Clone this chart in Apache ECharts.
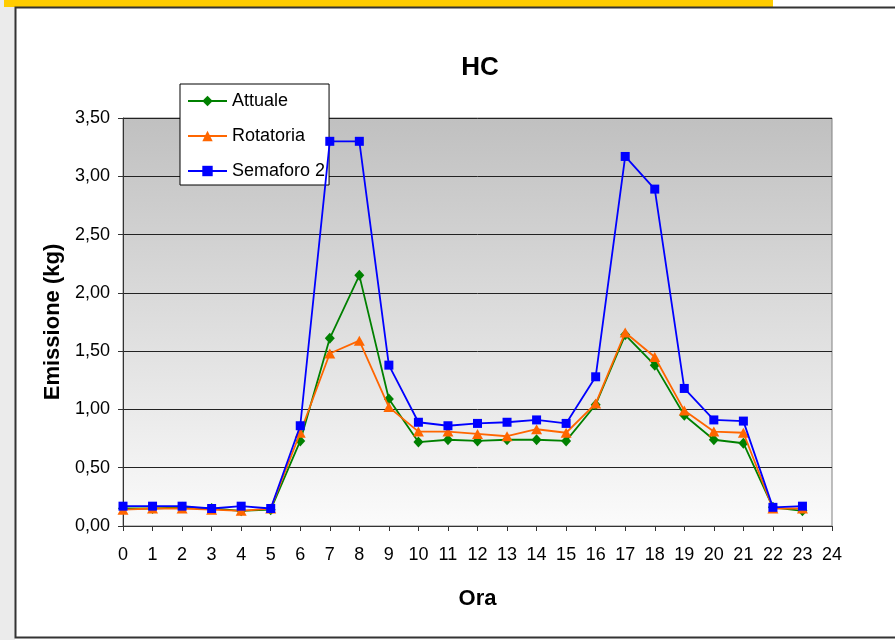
<!DOCTYPE html>
<html>
<head>
<meta charset="utf-8">
<script src="https://cdn.jsdelivr.net/npm/echarts@6/dist/echarts.min.js"></script>
<style>
html,body{margin:0;padding:0;background:#fff;}
#chart{width:895px;height:640px;}
</style>
</head>
<body>
<div id="chart"></div>
<script>
var hours = ['0','1','2','3','4','5','6','7','8','9','10','11','12','13','14','15','16','17','18','19','20','21','22','23','24'];
var attuale = [0.15,0.15,0.16,0.15,0.13,0.14,0.73,1.61,2.15,1.09,0.72,0.74,0.73,0.74,0.74,0.73,1.04,1.64,1.38,0.95,0.74,0.71,0.16,0.13];
var rotatoria = [0.14,0.15,0.15,0.14,0.13,0.15,0.80,1.48,1.59,1.02,0.81,0.81,0.79,0.77,0.83,0.80,1.05,1.66,1.45,0.99,0.81,0.80,0.15,0.15];
var semaforo2 = [0.17,0.17,0.17,0.15,0.17,0.15,0.86,3.30,3.30,1.38,0.89,0.86,0.88,0.89,0.91,0.88,1.28,3.17,2.89,1.18,0.91,0.90,0.16,0.17];
var seriesNames = ['Attuale','Rotatoria','Semaforo 2'];
var chartTitle = 'HC';
var yName = 'Emissione (kg)';
var xName = 'Ora';

var FONT = 'Liberation Sans, Arial, sans-serif';
var chart = echarts.init(document.getElementById('chart'), null, {renderer:'canvas'});
chart.setOption({
  animation: false,
  backgroundColor: '#fff',
  graphic: [
    {type:'rect', shape:{x:0,y:0,width:15,height:640}, style:{fill:'#ebebeb'}, z:-10},
    {type:'rect', shape:{x:4,y:0,width:769,height:7}, style:{fill:'#ffcc00'}, z:-10},
    {type:'rect', shape:{x:15.5,y:7.5,width:900,height:630}, style:{fill:'#fff', stroke:'#333', lineWidth:2}, z:-9}
  ],
  title: {
    text: chartTitle,
    left: 475, top: 50, textAlign: 'center',
    textStyle: {fontFamily: FONT, fontSize: 26, fontWeight: 'bold', color: '#000'}
  },
  legend: {
    data: seriesNames,
    orient: 'vertical',
    left: 180, top: 84,
    backgroundColor: '#fff',
    borderColor: '#000', borderWidth: 1,
    padding: [8, 4, 5, 7],
    itemWidth: 39, itemHeight: 13, itemGap: 17,
    textStyle: {fontFamily: FONT, fontSize: 18, color: '#000', lineHeight: 18}
  },
  grid: {
    left: 123, right: 63, top: 118, bottom: 114,
    show: true,
    borderColor: '#808080', borderWidth: 1,
    backgroundColor: new echarts.graphic.LinearGradient(0,0,0,1,[{offset:0,color:'#c0c0c0'},{offset:1,color:'#fbfbfb'}])
  },
  xAxis: {
    type: 'category',
    data: hours,
    boundaryGap: false,
    name: xName, nameLocation: 'middle', nameGap: 62,
    nameTextStyle: {fontFamily: FONT, fontSize: 22, fontWeight: 'bold', color: '#000'},
    axisLine: {lineStyle: {color: '#333', width: 1}},
    axisTick: {show: true, length: 5, lineStyle: {color: '#333'}},
    axisLabel: {fontFamily: FONT, fontSize: 18, color: '#000', margin: 20, interval: 0},
    splitLine: {show: false}
  },
  yAxis: {
    type: 'value',
    min: 0, max: 3.5, interval: 0.5,
    name: yName, nameLocation: 'middle', nameGap: 58, nameRotate: 90,
    nameTextStyle: {fontFamily: FONT, fontSize: 22, fontWeight: 'bold', color: '#000'},
    axisLine: {show: true, lineStyle: {color: '#333', width: 1}},
    axisTick: {show: true, length: 5, lineStyle: {color: '#333'}},
    axisLabel: {fontFamily: FONT, fontSize: 18, color: '#000', margin: 13,
      formatter: function(v){ return v.toFixed(2).replace('.', ','); }},
    splitLine: {show: true, lineStyle: {color: '#222', width: 1}}
  },
  series: [
    {name: seriesNames[0], type: 'line', data: attuale, symbol: 'diamond', symbolSize: [10, 11],
      lineStyle: {color: '#008000', width: 1.8}, itemStyle: {color: '#008000'}, z: 2},
    {name: seriesNames[1], type: 'line', data: rotatoria, symbol: 'triangle', symbolSize: [11, 10],
      lineStyle: {color: '#ff6600', width: 1.8}, itemStyle: {color: '#ff6600'}, z: 3},
    {name: seriesNames[2], type: 'line', data: semaforo2, symbol: 'rect', symbolSize: 9,
      lineStyle: {color: '#0000ff', width: 1.8}, itemStyle: {color: '#0000ff'}, z: 4}
  ]
});
</script>
</body>
</html>
